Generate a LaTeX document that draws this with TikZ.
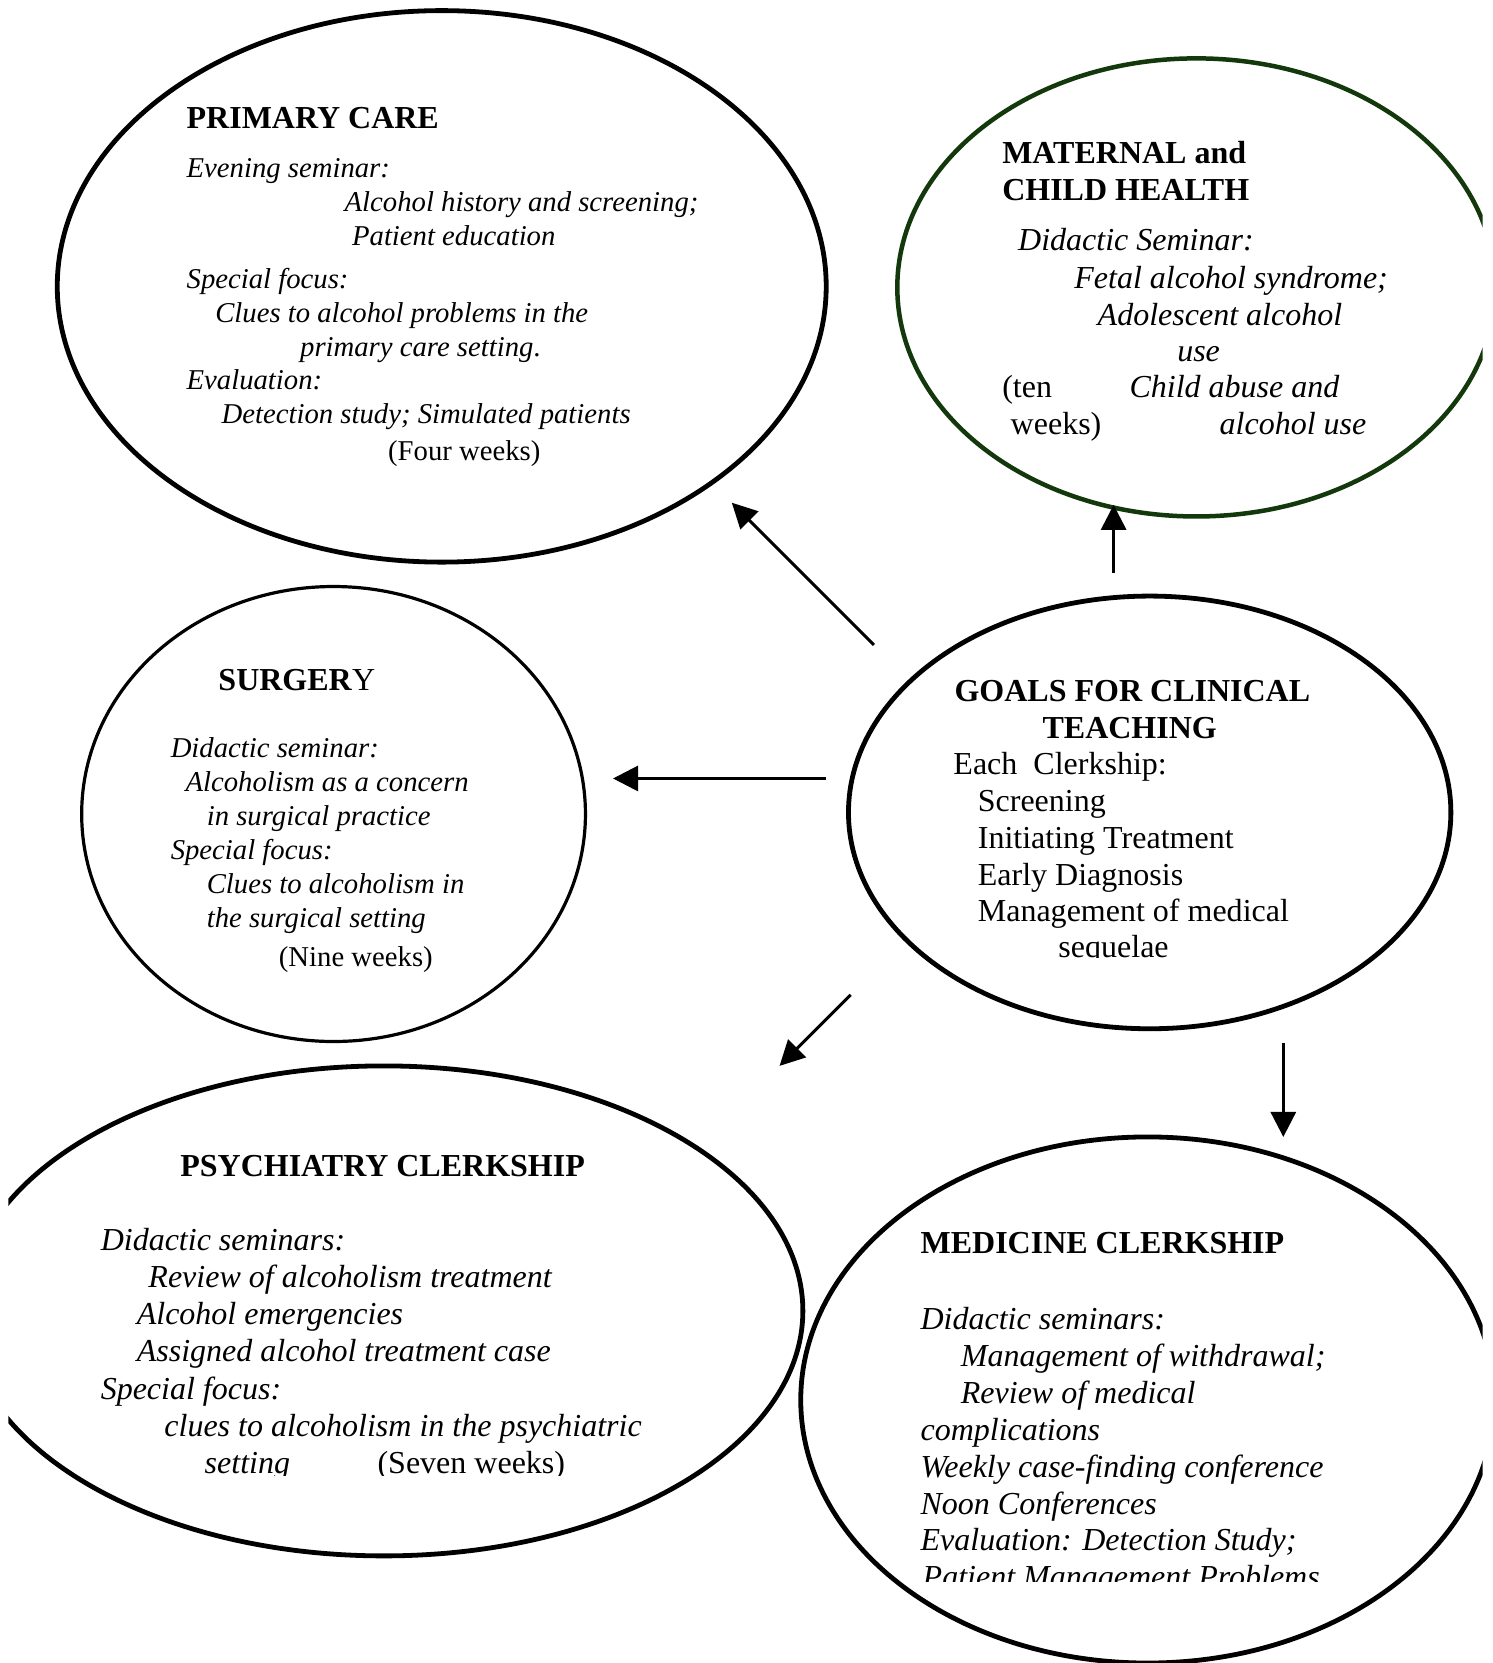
\documentclass[tikz,border=0pt]{standalone}
\usepackage{fontspec}
\setmainfont{Liberation Serif}
\usetikzlibrary{shapes.geometric,arrows.meta}
\definecolor{mgreen}{RGB}{18,56,12}
\begin{document}
\begin{tikzpicture}[x=1.0604pt,y=-1.0604pt,
  oval/.style={ellipse,draw,line width=4.8pt,inner sep=0pt,outer sep=0pt},
  ln/.style={anchor=base west,inner sep=0pt,outer sep=0pt,yshift=-2.2pt},
  ttl/.style={ln,font=\fontsize{32}{38}\selectfont\bfseries},
  itA/.style={ln,font=\fontsize{28.7}{34}\selectfont\itshape},
  rmA/.style={ln,font=\fontsize{28.7}{34}\selectfont},
  itB/.style={ln,font=\fontsize{32}{38}\selectfont\itshape},
  rmB/.style={ln,font=\fontsize{32}{38}\selectfont},
  arr/.style={line width=3pt,-{Triangle[length=25pt,width=25pt]}}]
\fill[white] (0,0) rectangle (1407,1568);
\useasboundingbox (0,0) rectangle (1407,1568);

% ellipses
\begin{scope}
\clip (8,0) rectangle (1398,1568);
\node[oval,minimum width=768.8pt,minimum height=551.4pt] (pc) at (416.5,270) {};
\node[oval,draw=mgreen,line width=4.5pt,minimum width=598pt,minimum height=458pt] (mch) at (1128,271) {};
\node[oval,line width=3.2pt,minimum width=503.7pt,minimum height=454.9pt] (sg) at (314.5,767.5) {};
\node[oval,minimum width=602.3pt,minimum height=432.6pt] (gl) at (1084,766) {};
\node[oval,minimum width=837.7pt,minimum height=489.9pt] (ps) at (362,1236) {};
\node[oval,minimum width=693.5pt,minimum height=526pt] (md) at (1082,1320) {};
\end{scope}

% primary care
\node[ttl] (pc1) at (176,119) {PRIMARY CARE};
\node[itA] (pc2) at (176,165) {Evening seminar:};
\node[itA] (pc3) at (325,197) {Alcohol history and screening;};
\node[itA] (pc4) at (332,229) {Patient education};
\node[itA] (pc5) at (176,270) {Special focus:};
\node[itA] (pc6) at (203,302) {Clues to alcohol problems in the};
\node[itA] (pc7) at (283,334) {primary care setting\upshape.};
\node[itA] (pc8) at (176,365) {Evaluation:};
\node[itA] (pc9) at (209,397) {Detection study; Simulated patients};
\node[rmA] (pc10) at (366,432) {(Four weeks)};

% maternal and child health
\node[ttl] (mc1) at (945,152) {MATERNAL and};
\node[ttl] (mc2) at (945,187) {CHILD HEALTH};
\node[itB] (mc3) at (960,234) {Didactic Seminar:};
\node[itB] (mc4) at (1013,270) {Fetal alcohol syndrome;};
\node[itB] (mc5) at (1035,305) {Adolescent alcohol};
\node[itB] (mc6) at (1110,339) {use};
\node[rmB] (mc7) at (945,373) {(ten};
\node[itB] (mc8) at (1065,373) {Child abuse and};
\node[rmB] (mc9) at (953,408) {weeks)};
\node[itB] (mc10) at (1150,408) {alcohol use};

% surgery
\node[ttl] (sg1) at (206,649) {SURGER\textmd{Y}};
\node[itA] (sg2) at (161,712) {Didactic seminar:};
\node[itA] (sg3) at (175,744) {Alcoholism as a concern};
\node[itA] (sg4) at (195,776) {in surgical practice};
\node[itA] (sg5) at (161,808) {Special focus:};
\node[itA] (sg6) at (195,840) {Clues to alcoholism in};
\node[itA] (sg7) at (195,872) {the surgical setting};
\node[rmA] (sg8) at (263,909) {(Nine weeks)};

% goals
\begin{scope}
\clip (800,600) rectangle (1398,903);
\node[ttl] (gl1) at (900,659) {GOALS FOR CLINICAL};
\node[ttl] (gl2) at (983,694) {TEACHING};
\node[rmB] (gl3) at (899,728) {Each\ \ Clerkship:};
\node[rmB] (gl4) at (922,763) {Screening};
\node[rmB] (gl5) at (922,798) {Initiating Treatment};
\node[rmB] (gl6) at (922,833) {Early Diagnosis};
\node[rmB] (gl7) at (922,867) {Management of medical};
\node[rmB] (gl8) at (998,901) {sequelae};
\end{scope}

% psychiatry
\begin{scope}
\clip (8,1050) rectangle (760,1391);
\node[ttl] (ps1) at (170,1107) {PSYCHIATRY CLERKSHIP};
\node[itB] (ps2) at (95,1177) {Didactic seminars:};
\node[itB] (ps3) at (140,1212) {Review of alcoholism treatment};
\node[itB] (ps4) at (129,1247) {Alcohol emergencies};
\node[itB] (ps5) at (129,1282) {Assigned alcohol treatment case};
\node[itB] (ps6) at (95,1317) {Special focus:};
\node[itB] (ps7) at (155,1352) {clues to alcoholism in the psychiatric};
\node[itB] (ps8) at (193,1387) {setting};
\node[rmB] (ps9) at (356,1387) {(Seven weeks)};
\end{scope}

% medicine
\begin{scope}
\clip (760,1120) rectangle (1398,1491);
\node[ttl] (md1) at (868,1180) {MEDICINE CLERKSHIP};
\node[itB] (md2) at (868,1251) {Didactic seminars:};
\node[itB] (md3) at (906,1286) {Management of withdrawal;};
\node[itB] (md4) at (906,1321) {Review of medical};
\node[itB] (md5) at (868,1356) {complications};
\node[itB] (md6) at (868,1391) {Weekly case-finding conference};
\node[itB] (md7) at (868,1426) {Noon Conferences};
\node[itB] (md8) at (868,1460) {Evaluation: Detection Study;};
\node[itB] (md9) at (870,1495) {Patient Management Problems};
\end{scope}

% arrows
\coordinate (a1s) at (824,608);  \coordinate (a1e) at (690,474);
\coordinate (a2s) at (1050,540); \coordinate (a2e) at (1050,476);
\coordinate (a3s) at (779,734);  \coordinate (a3e) at (578,734);
\coordinate (a4s) at (802,938);  \coordinate (a4e) at (735,1005);
\coordinate (a5s) at (1210,983); \coordinate (a5e) at (1210,1072);
\draw[arr] (a1s) -- (a1e);
\draw[arr] (a2s) -- (a2e);
\draw[arr] (a3s) -- (a3e);
\draw[arr] (a4s) -- (a4e);
\draw[arr] (a5s) -- (a5e);
\end{tikzpicture}
\end{document}
